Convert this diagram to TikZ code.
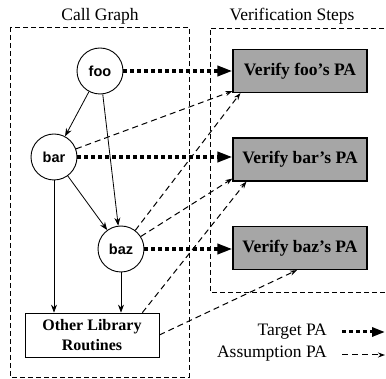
\documentclass[tikz,border=0pt]{standalone}
\usepackage{fontspec}
\setmainfont{Liberation Serif}
\newfontfamily\hvfont{Liberation Sans}
\usetikzlibrary{arrows.meta,calc}
\tikzset{
  callnode/.style={circle,draw,line width=0.9pt,minimum size=46pt,inner sep=0pt,
    font=\hvfont\bfseries\fontsize{14.5}{17}\selectfont},
  verifybox/.style={rectangle,draw,line width=1.2pt,fill=black!35,minimum width=134pt,
    minimum height=43pt,inner sep=0pt,font=\bfseries\fontsize{17.5}{20}\selectfont},
  libbox/.style={rectangle,draw,line width=0.7pt,minimum width=134pt,minimum height=44pt,
    inner sep=0pt,align=center,font=\bfseries\fontsize{16}{20}\selectfont},
  callarrow/.style={line width=0.8pt,-{Stealth[length=8pt,width=6pt]}},
  targetarrow/.style={line width=3.5pt,dash pattern=on 4pt off 3pt,
    -{Triangle[length=15pt,width=10pt]}},
  assumearrow/.style={line width=1pt,dash pattern=on 6pt off 4pt,
    -{Stealth[length=7pt,width=5pt]}},
  framebox/.style={line width=0.9pt,dash pattern=on 5pt off 3pt},
  heading/.style={anchor=base,font=\fontsize{17.5}{20}\selectfont,inner sep=0pt},
  legendtext/.style={anchor=east,font=\fontsize{17.5}{20}\selectfont,inner sep=0pt}
}
\begin{document}
\begin{tikzpicture}[x=1pt,y=-1pt]
\useasboundingbox (0,0) rectangle (386,379);
% frames
\draw[framebox] (10,27) rectangle (189,377);
\draw[framebox] (392,28) -- (210,28) -- (210,292) -- (392,292);
\node[heading] (cgtitle) at (100,20.5) {Call Graph};
\node[heading] (vstitle) at (292,20.5) {Verification Steps};
% call graph nodes
\node[callnode] (foo) at (100,71) {foo};
\node[callnode] (bar) at (54,157) {bar};
\node[callnode] (baz) at (121,249) {baz};
\node[libbox] (other) at (92,335) {Other Library\\Routines};
% verification boxes
\node[verifybox] (vfoo) at (300,71) {Verify foo's PA};
\node[verifybox] (vbar) at (300,159.5) {Verify bar's PA};
\node[verifybox] (vbaz) at (300,248) {Verify baz's PA};
% call edges
\draw[callarrow] (foo) -- (bar);
\draw[callarrow] (foo) -- (baz);
\draw[callarrow] (bar) -- (baz);
\draw[callarrow] (bar.south) -- (bar.south |- other.north);
\draw[callarrow] (baz.south) -- (baz.south |- other.north);
% target PA
\draw[targetarrow] (foo) -- (vfoo);
\draw[targetarrow] (bar) -- (vbar.west |- bar);
\draw[targetarrow] (baz) -- (vbaz.west |- baz);
% assumption PA
\coordinate (a1) at ([yshift=2pt]vfoo.south west);
\coordinate (a2) at ([xshift=8pt]vfoo.south west);
\coordinate (a3) at ([yshift=3pt]vbar.south west);
\coordinate (a4) at ([xshift=14pt]vbar.south west);
\coordinate (a5) at ([xshift=-3pt]vbaz.south);
\coordinate (o1) at ([xshift=-17pt]other.north east);
\draw[assumearrow] (bar) -- (a1);
\draw[assumearrow] (baz) -- (a2);
\draw[assumearrow] (baz) -- (a3);
\draw[assumearrow] (o1) -- (a4);
\draw[assumearrow] (other.east) -- (a5);
% legend
\node[legendtext] (ltarget) at (327,332) {Target PA};
\node[legendtext] (lassume) at (327,354) {Assumption PA};
\coordinate (lt1) at (342,332);
\coordinate (lt2) at (385,332);
\coordinate (la1) at (342,355);
\coordinate (la2) at (385,355);
\draw[targetarrow,line width=3pt,-{Triangle[length=13pt,width=9pt]}] (lt1) -- (lt2);
\draw[assumearrow] (la1) -- (la2);
\end{tikzpicture}
\end{document}
